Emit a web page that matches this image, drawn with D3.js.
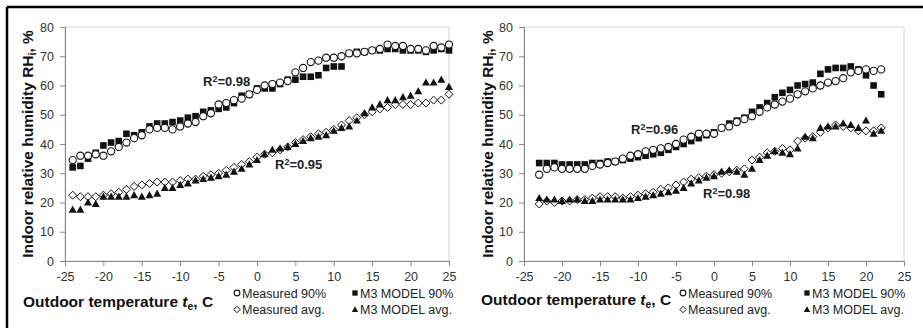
<!DOCTYPE html>
<html>
<head>
<meta charset="utf-8">
<script src="https://cdn.jsdelivr.net/npm/d3@7"></script>
<style>
  body { margin: 0; background: #fff; }
  svg { display: block; font-family: "Liberation Sans", Arial, sans-serif; }
</style>
</head>
<body>
<svg id="chart" width="923" height="328"></svg>
<script>
// left panel: outdoor temperature -24..25
const tempsA = d3.range(-24, 26);
const meas90A = [34.5, 36, 36, 36.5, 36, 37.5, 39, 40.5, 42, 43, 45, 45.5, 45.5, 45, 46, 47, 47.5, 49.5, 50.5, 53.5,
  54, 55, 55.5, 57, 58.5, 60, 60.5, 61, 61.5, 64.5, 66, 68, 68.5, 69.5, 69.5, 70, 71, 71, 71.5, 72,
  72.5, 74, 73.5, 73.5, 72.5, 72.5, 72, 73.5, 73, 74];
const model90A = [32, 32.5, 35, 37, 39.5, 40.5, 41, 43.5, 43, 44, 46, 47, 47, 47.5, 48, 49, 49.5, 51, 51.5, 52,
  52.5, 54, 56.5, 57, 59, 59, 59, 60.5, 62, 62, 63, 63, 63.5, 66, 66.5, 66.5, 71, 71.5, 71.5, 72,
  72, 72.5, 72.5, 72, 72, 72, 71.5, 72, 72.5, 72];
const measAvgA = [22.5, 22, 22, 22, 22.5, 23, 23.5, 24.5, 25.5, 26, 26.5, 27, 27, 27, 27.5, 28, 28, 29, 29.5, 30,
  31, 32, 33, 34, 35.5, 36.5, 37, 38, 39, 40.5, 41.5, 42.5, 43.5, 44, 45, 46.5, 48, 49, 50, 51,
  52, 52.5, 53.5, 53.5, 53.5, 54, 54, 55, 55, 57];
const modelAvgA = [17.5, 17.5, 20, 19.5, 22, 22, 22, 22, 22.5, 22, 22.5, 23, 25, 25, 26, 26.5, 27.5, 28, 28.5, 29,
  29.5, 30.5, 31.5, 33, 34.5, 36.5, 38, 38.5, 39, 40, 41, 42, 42.5, 43, 44.5, 45.5, 46, 48, 50.5, 52.5,
  53.5, 55, 55, 56, 56.5, 58, 61, 61, 62, 59.5];

// right panel: outdoor temperature -23..22
const tempsB = d3.range(-23, 23);
const meas90B = [29.5, 31.5, 32, 31.5, 31.5, 31.5, 31.5, 32.5, 33, 33.5, 34, 35, 36, 36.5, 37.5, 38, 38.5, 39, 40, 41.5,
  42.5, 43.5, 43.5, 43.5, 45.5, 46, 47.5, 48.5, 49.5, 51, 52.5, 53.5, 54.5, 55.5, 57, 58, 59, 60, 61, 61.5,
  62.5, 64.5, 65, 65.5, 65, 65.5];
const model90B = [33.5, 33.5, 33.5, 33, 33, 33, 33, 33.5, 33.5, 34, 34, 34.5, 35, 35.5, 36, 36.5, 37, 38, 39, 40,
  41, 42, 43, 44, 45.5, 47, 48, 49, 51, 52.5, 54, 56, 57.5, 58.5, 60, 60.5, 61, 64, 65.5, 66,
  66, 66.5, 65.5, 63.5, 60, 57];
const measAvgB = [19.5, 20.5, 20, 20.5, 20.5, 21, 21, 21.5, 22, 22, 22, 21.5, 22, 22.5, 23, 23.5, 24.5, 25, 26, 27,
  28, 28.5, 29, 29.5, 30, 30.5, 31, 31.5, 34.5, 35.5, 37, 37.5, 38.5, 38, 41, 42, 42.5, 44, 45.5, 46.5,
  46, 45.5, 44.5, 44.5, 44.5, 45.5];
const modelAvgB = [21.5, 21, 21, 20.5, 21, 21, 20.5, 20.5, 21, 21, 21, 21, 21, 21.5, 22, 22.5, 23, 23.5, 24, 25,
  26.5, 27.5, 28.5, 29, 30.5, 31, 30.5, 29.5, 31.5, 34.5, 36, 37.5, 37, 36.5, 38.5, 42.5, 42, 45.5, 46, 46,
  47, 46.5, 45.5, 48, 43.5, 44.5];

const xTicks = [-25, -20, -15, -10, -5, 0, 5, 10, 15, 20, 25];
const yTicks = [0, 10, 20, 30, 40, 50, 60, 70, 80];
const legendLabels = ["Measured 90%", "M3 MODEL 90%", "Measured avg.", "M3 MODEL avg."];
const r2A = ["0.98", "0.95"];
const r2B = ["0.96", "0.98"];

const svg = d3.select("#chart");

// outer frame (left + top edges visible)
svg.append("line").attr("x1", 7).attr("y1", 7).attr("x2", 923).attr("y2", 7)
  .attr("stroke", "#000").attr("stroke-width", 2.5);
svg.append("line").attr("x1", 7).attr("y1", 7).attr("x2", 7).attr("y2", 328)
  .attr("stroke", "#000").attr("stroke-width", 2.5);

// marker drawers, k = size factor
const symbols = {
  circle: (g, cx, cy, k = 1) => g.append("circle").attr("cx", cx).attr("cy", cy).attr("r", 3.6 * k)
    .attr("fill", "#fff").attr("stroke", "#111").attr("stroke-width", 1.1),
  square: (g, cx, cy, k = 1) => g.append("rect").attr("x", cx - 3.3 * k).attr("y", cy - 3.3 * k)
    .attr("width", 6.6 * k).attr("height", 6.6 * k).attr("fill", "#111"),
  diamond: (g, cx, cy, k = 1) => g.append("path").attr("transform", `translate(${cx},${cy}) scale(${k})`)
    .attr("d", "M0,-4L4,0L0,4L-4,0Z").attr("fill", "#fff").attr("stroke", "#111").attr("stroke-width", 1 / k),
  triangle: (g, cx, cy, k = 1) => g.append("path").attr("transform", `translate(${cx},${cy}) scale(${k})`)
    .attr("d", "M0,-4.2L4,3L-4,3Z").attr("fill", "#111")
};

function drawPanel(cfg) {
  const x = d3.scaleLinear().domain([-25, 25]).range([cfg.left, cfg.right]);
  const y = d3.scaleLinear().domain([0, 80]).range([261, 27]);
  const g = svg.append("g");

  // plot area border
  g.append("rect").attr("x", cfg.left).attr("y", 27)
    .attr("width", cfg.right - cfg.left).attr("height", 234)
    .attr("fill", "none").attr("stroke", "#d4d4d4").attr("stroke-width", 1);

  const xAxis = g.append("g").attr("transform", "translate(0,261)")
    .call(d3.axisBottom(x).tickValues(xTicks).tickFormat(d => String(d)).tickSize(5).tickPadding(6));
  const yAxis = g.append("g").attr("transform", `translate(${cfg.left},0)`)
    .call(d3.axisLeft(y).tickValues(yTicks).tickFormat(d => String(d)).tickSize(5).tickPadding(6));
  [xAxis, yAxis].forEach(a => {
    a.select(".domain").attr("stroke", "#888");
    a.selectAll(".tick line").attr("stroke", "#888");
    a.selectAll("text").attr("fill", "#333").style("font-size", "12.5px");
  });

  // series
  cfg.series.forEach(s => {
    const sg = g.append("g");
    cfg.temps.forEach((t, i) => symbols[s.sym](sg, x(t), y(s.values[i])));
  });

  // R² labels
  cfg.r2.forEach(r => {
    const tx = g.append("text").attr("x", r.x).attr("y", r.y)
      .attr("font-weight", "bold").attr("font-size", 13).attr("fill", "#222");
    tx.append("tspan").text("R");
    tx.append("tspan").attr("font-size", 9).attr("dy", -4).text("2");
    tx.append("tspan").attr("dy", 4).text("=" + r.v);
  });

  // y title
  const yt = g.append("text")
    .attr("transform", `translate(${cfg.yTitleX},144) rotate(-90)`)
    .attr("text-anchor", "middle").attr("font-weight", "bold").attr("font-size", 15.5).attr("fill", "#111");
  yt.append("tspan").text("Indoor relative humidity RH");
  yt.append("tspan").attr("font-size", 10.5).attr("dy", 3).text("i");
  yt.append("tspan").attr("dy", -3).text(", %");

  // x title
  const xt = g.append("text").attr("x", cfg.xTitleX).attr("y", cfg.xTitleY)
    .attr("font-weight", "bold").attr("font-size", 15.5).attr("fill", "#111");
  xt.append("tspan").text("Outdoor temperature ");
  xt.append("tspan").attr("font-style", "italic").text("t");
  xt.append("tspan").attr("font-size", 10.5).attr("dy", 3).text("e");
  xt.append("tspan").attr("dy", -3).text(", C");

  // legend
  const lg = g.append("g");
  const syms = ["circle", "square", "diamond", "triangle"];
  legendLabels.forEach((lab, i) => {
    const col = i % 2, row = Math.floor(i / 2);
    const sx = cfg.legX[col], sy = 293 + row * 16.5;
    symbols[syms[i]](lg, sx, sy, 0.8);
    lg.append("text").attr("x", sx + 5).attr("y", sy + 4.5)
      .attr("font-size", 12.5).attr("fill", "#222").text(lab);
  });
}

drawPanel({
  left: 65, right: 449, temps: tempsA,
  series: [
    { sym: "square", values: model90A },
    { sym: "circle", values: meas90A },
    { sym: "diamond", values: measAvgA },
    { sym: "triangle", values: modelAvgA }
  ],
  r2: [{ x: 203, y: 86, v: r2A[0] }, { x: 275, y: 169, v: r2A[1] }],
  yTitleX: 33, xTitleX: 23, xTitleY: 307, legX: [237, 355]
});

drawPanel({
  left: 524, right: 904, temps: tempsB,
  series: [
    { sym: "square", values: model90B },
    { sym: "circle", values: meas90B },
    { sym: "diamond", values: measAvgB },
    { sym: "triangle", values: modelAvgB }
  ],
  r2: [{ x: 631, y: 134, v: r2B[0] }, { x: 703, y: 198, v: r2B[1] }],
  yTitleX: 493, xTitleX: 481, xTitleY: 305, legX: [683, 807]
});
</script>
</body>
</html>
